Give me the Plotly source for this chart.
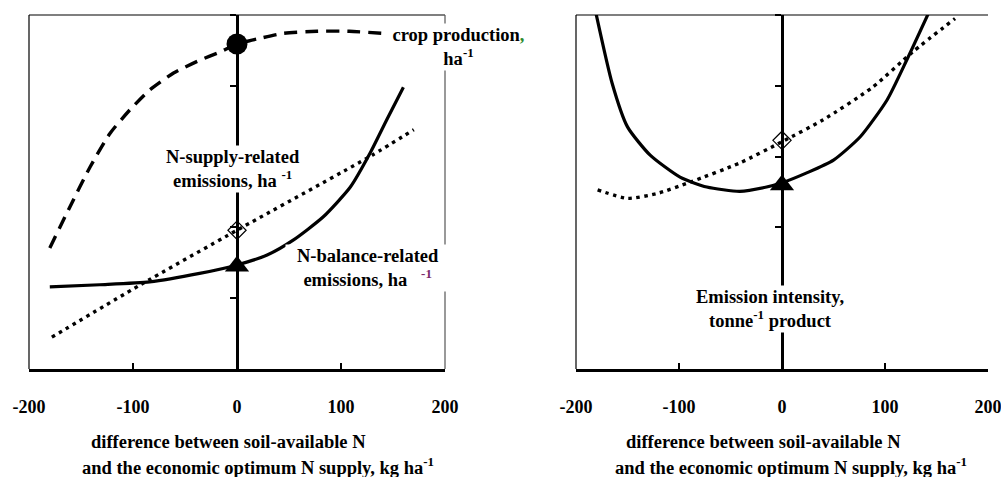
import plotly.graph_objects as go

# ---------------- data ----------------
# Left panel: per-hectare quantities vs. deviation from economic optimum N supply
crop_x = [-180, -162, -141, -122, -103, -84, -61, -36, -16, 0, 22, 44, 77, 108, 141, 145]
crop_y = [1.71, 2.25, 2.86, 3.33, 3.66, 3.94, 4.18, 4.36, 4.48, 4.59, 4.67, 4.74, 4.77, 4.77, 4.74, 4.74]

balance_x = [-180, -132, -84, -36, 0, 29, 54, 83, 109, 128, 144, 160]
balance_y = [1.16, 1.19, 1.23, 1.35, 1.47, 1.61, 1.82, 2.15, 2.57, 3.05, 3.52, 3.98]

supply_x = [-178, -94, 0, 130, 170]
supply_y = [0.45, 1.18, 1.96, 3.02, 3.38]

opt_crop = 4.59
opt_supply = 1.96
opt_balance = 1.45

# Right panel: emission intensity per tonne of product
intens_x = [-181, -165, -150, -128, -99, -73, -41, -15, 0, 24, 50, 76, 102, 121, 143]
intens_y = [5.05, 4.04, 3.42, 3.02, 2.71, 2.57, 2.51, 2.57, 2.63, 2.77, 2.95, 3.28, 3.80, 4.36, 5.05]

sup2_x = [-179, -150, -121, -89, -41, 0, 40, 88, 127, 168]
sup2_y = [2.53, 2.41, 2.48, 2.64, 2.91, 3.21, 3.52, 3.98, 4.48, 4.95]

opt_intens = 2.60
opt_sup2 = 3.23

x_ticks = [-200, -100, 0, 100, 200]
x_ticktext = ["-200", "-100", "0", "100", "200"]
y_ticks = [1, 2, 3, 4, 5]

# ---------------- styling ----------------
W, H = 1001, 477
FONT = "Liberation Serif"
LX = [29 / W, 445 / W]
RX = [576 / W, 988 / W]
YD = [108 / H, 462 / H]

fig = go.Figure()

solid = dict(color="black", width=3.2, shape="spline", smoothing=0.6)
dashed = dict(color="black", width=3.4, dash="13px,8px", shape="spline", smoothing=0.6)
dotted = dict(color="black", width=3.4, dash="3.5px,4.5px", shape="spline", smoothing=0.6)

# left panel
fig.add_trace(go.Scatter(x=crop_x, y=crop_y, mode="lines", line=dashed, xaxis="x", yaxis="y"))
fig.add_trace(go.Scatter(x=balance_x, y=balance_y, mode="lines", line=solid, xaxis="x", yaxis="y"))
fig.add_trace(go.Scatter(x=supply_x, y=supply_y, mode="lines", line=dotted, xaxis="x", yaxis="y"))
fig.add_trace(go.Scatter(x=[0], y=[opt_crop], mode="markers", xaxis="x", yaxis="y",
                         marker=dict(symbol="circle", size=21, color="black")))
fig.add_trace(go.Scatter(x=[0], y=[opt_supply], mode="markers", xaxis="x", yaxis="y",
                         marker=dict(symbol="diamond-open", size=14, color="black", line=dict(width=1.2))))
fig.add_trace(go.Scatter(x=[0], y=[opt_balance], mode="markers", xaxis="x", yaxis="y",
                         marker=dict(symbol="triangle-up", size=21, color="black")))

# right panel
fig.add_trace(go.Scatter(x=intens_x, y=intens_y, mode="lines", line=solid, xaxis="x2", yaxis="y2"))
fig.add_trace(go.Scatter(x=sup2_x, y=sup2_y, mode="lines", line=dotted, xaxis="x2", yaxis="y2"))
fig.add_trace(go.Scatter(x=[0], y=[opt_sup2], mode="markers", xaxis="x2", yaxis="y2",
                         marker=dict(symbol="diamond-open", size=14, color="black", line=dict(width=1.2))))
fig.add_trace(go.Scatter(x=[0], y=[opt_intens], mode="markers", xaxis="x2", yaxis="y2",
                         marker=dict(symbol="triangle-up", size=21, color="black")))

tickfont = dict(family=FONT, size=18, color="black", weight="bold")

def xax(domain, anchor):
    return dict(domain=domain, anchor=anchor, range=[-200, 200], showgrid=False, zeroline=False,
                showline=True, linecolor="black", linewidth=2.5, automargin=False,
                ticks="inside", ticklen=6, tickwidth=2, tickcolor="black",
                tickvals=x_ticks, ticktext=x_ticktext, tickfont=tickfont,
                ticklabelstandoff=20, ticklabeloverflow="allow", fixedrange=True)

def yax(pos, ticks, showline, overlay=None):
    d = dict(domain=YD, anchor="free", position=pos, range=[0, 5], showgrid=False, zeroline=False,
             showline=showline, linecolor="black", linewidth=2.5, automargin=False,
             ticks=ticks, ticklen=6, tickwidth=2, tickcolor="black",
             tickvals=y_ticks, showticklabels=False, fixedrange=True)
    if overlay:
        d["overlaying"] = overlay
    return d

lpos = (LX[0] + LX[1]) / 2
rpos = (RX[0] + RX[1]) / 2

fig.update_layout(
    width=W, height=H, autosize=False,
    margin=dict(l=0, r=0, t=0, b=0, pad=0, autoexpand=False),
    paper_bgcolor="white", plot_bgcolor="white",
    showlegend=False,
    font=dict(family=FONT, color="black"),
    xaxis=xax(LX, "y"),
    yaxis=yax(lpos, "outside", True),
    yaxis3=yax(lpos, "inside", False, overlay="y"),
    xaxis2=xax(RX, "y2"),
    yaxis2=yax(rpos, "outside", True),
    yaxis4=yax(rpos, "inside", False, overlay="y2"),
)

# frame lines (top, left, right for left panel; top, left for right panel)
frame = dict(color="black", width=1.2)
for xr, yr in (("x domain", "y domain"), ("x2 domain", "y2 domain")):
    fig.add_shape(type="line", xref=xr, yref=yr, x0=0, x1=1, y0=1, y1=1, line=frame)
    fig.add_shape(type="line", xref=xr, yref=yr, x0=0, x1=0, y0=0, y1=1, line=frame)
fig.add_shape(type="line", xref="x domain", yref="y domain", x0=1, x1=1, y0=0, y1=1,
              line=dict(color="#555555", width=1.2))

lab = dict(family=FONT, size=18.5, color="black")

def ann(text, x, y, bg=True, width=None, pad=1):
    a = dict(text=text, xref="paper", yref="paper", x=x / W, y=1 - y / H,
             xanchor="center", yanchor="middle", showarrow=False, align="center",
             font=lab, borderpad=pad)
    if bg:
        a["bgcolor"] = "white"
    if width:
        a["width"] = width
    fig.add_annotation(**a)

ann("<b>crop production<span style='color:#2e8b2e'>,</span><br>ha<sup>-1</sup></b>", 458, 47, width=135)
ann("<b>N-supply-related<br>emissions, ha <sup>-1</sup></b>", 233, 169)
ann("<b>N-balance-related<br>emissions, ha &nbsp;&nbsp;<sup><span style='color:#7b2a6a'>-1</span></sup></b>",
    368, 268, width=162)
ann("<b>Emission intensity,<br>tonne<sup>-1</sup> product</b>", 770, 309)

ann("<b>difference between soil-available N</b>", 228, 442, bg=False)
ann("<b>and the economic optimum N supply, kg ha<sup>-1</sup></b>", 258, 466, bg=False)
ann("<b>difference between soil-available N</b>", 763, 442, bg=False)
ann("<b>and the economic optimum N supply, kg ha<sup>-1</sup></b>", 791, 466, bg=False)

fig.write_html("out.html", config={"displayModeBar": False, "staticPlot": True},
               post_script="document.body.style.margin='0';document.body.style.overflow='hidden';")
